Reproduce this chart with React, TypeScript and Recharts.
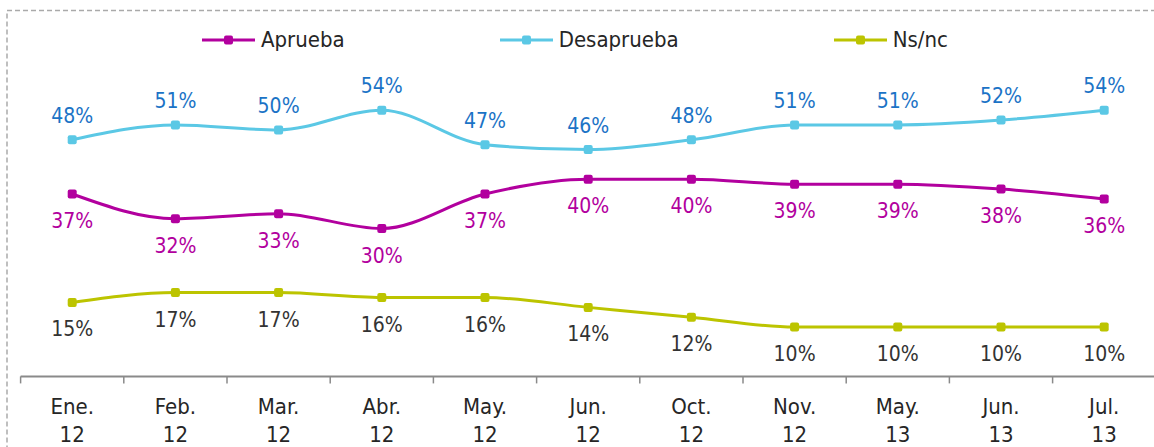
import { LabelList, Line, LineChart, XAxis, YAxis } from "recharts";

const MONTHS = ["Ene.", "Feb.", "Mar.", "Abr.", "May.", "Jun.", "Oct.", "Nov.", "May.", "Jun.", "Jul."];
const YEARS = ["12", "12", "12", "12", "12", "12", "12", "12", "13", "13", "13"];

const APRUEBA = [37, 32, 33, 30, 37, 40, 40, 39, 39, 38, 36];
const DESAPRUEBA = [48, 51, 50, 54, 47, 46, 48, 51, 51, 52, 54];
const NSNC = [15, 17, 17, 16, 16, 14, 12, 10, 10, 10, 10];

const FONT = "'DejaVu Sans Condensed', 'DejaVu Sans', sans-serif";

const SERIES = [
  { key: "aprueba", name: "Aprueba", color: "#b2009e", labelColor: "#b2009e", below: true },
  { key: "desaprueba", name: "Desaprueba", color: "#5bc8e5", labelColor: "#1b73c6", below: false },
  { key: "nsnc", name: "Ns/nc", color: "#bcc400", labelColor: "#333333", below: true },
];

const data = MONTHS.map((month, i) => ({
  idx: i,
  month,
  year: YEARS[i],
  aprueba: APRUEBA[i],
  desaprueba: DESAPRUEBA[i],
  nsnc: NSNC[i],
}));

// ticks at category centers (labels) and at boundaries (tick marks)
const xTicks = MONTHS.flatMap((_, i) => [i - 0.5, i]).concat(MONTHS.length - 0.5);

function AxisTick({ x, y, payload }: any) {
  const v = payload?.value as number;
  if (!Number.isInteger(v)) {
    return <line x1={x} x2={x} y1={y} y2={y + 7} stroke="#8a8a8a" strokeWidth={1.5} />;
  }
  return (
    <g>
      <text x={x} y={y + 38} textAnchor="middle" fill="#262626" fontSize={22} fontFamily={FONT}>
        {MONTHS[v]}
      </text>
      <text x={x} y={y + 66} textAnchor="middle" fill="#262626" fontSize={22} fontFamily={FONT}>
        {YEARS[v]}
      </text>
    </g>
  );
}

function SquareDot({ cx, cy, fill }: any) {
  if (cx == null || cy == null) return null;
  return <rect x={cx - 4.5} y={cy - 4.5} width={9} height={9} rx={2} fill={fill} />;
}

function makeLabel(color: string, below: boolean) {
  return function PctLabel({ x, y, value }: any) {
    return (
      <text
        x={x}
        y={below ? y + 34 : y - 17}
        textAnchor="middle"
        fill={color}
        fontSize={21}
        fontFamily={FONT}
      >
        {value}%
      </text>
    );
  };
}

function LegendRow() {
  return (
    <div
      style={{
        position: "absolute",
        top: 26,
        left: 202,
        display: "flex",
        gap: 155,
        fontFamily: FONT,
        fontSize: 22,
        color: "#262626",
        lineHeight: "28px",
      }}
    >
      {SERIES.map((s) => (
        <div key={s.key} style={{ display: "flex", alignItems: "center", gap: 6 }}>
          <svg width={53} height={12}>
            <line x1={0} x2={53} y1={6} y2={6} stroke={s.color} strokeWidth={3} />
            <rect x={22} y={1.5} width={9} height={9} rx={2} fill={s.color} />
          </svg>
          <span>{s.name}</span>
        </div>
      ))}
    </div>
  );
}

export default function App() {
  return (
    <div
      style={{
        position: "absolute",
        left: 0,
        top: 0,
        width: 1154,
        height: 447,
        overflow: "hidden",
        background: "#ffffff",
      }}
    >
      <svg width={1154} height={447} style={{ position: "absolute", left: 0, top: 0 }}>
        <rect
          x={7}
          y={10.5}
          width={1200}
          height={500}
          fill="none"
          stroke="#aaaaaa"
          strokeWidth={1.5}
          strokeDasharray="5 3"
        />
      </svg>
      <LegendRow />
      <div style={{ position: "absolute", left: 0, top: 0 }}>
        <LineChart
          width={1160}
          height={447}
          data={data}
          margin={{ top: 80.6, right: 4.2, bottom: 0.6, left: 20.6 }}
        >
          <XAxis
            dataKey="idx"
            type="number"
            domain={[-0.5, MONTHS.length - 0.5]}
            ticks={xTicks}
            interval={0}
            tickLine={false}
            tickSize={0}
            tickMargin={0}
            axisLine={{ stroke: "#8a8a8a", strokeWidth: 2 }}
            tick={<AxisTick />}
            height={70}
          />
          <YAxis hide domain={[0, 60]} />
          {SERIES.map((s) => (
            <Line
              key={s.key}
              dataKey={s.key}
              name={s.name}
              type="monotone"
              stroke={s.color}
              strokeWidth={3}
              dot={<SquareDot fill={s.color} />}
              activeDot={false}
              isAnimationActive={false}
            >
              <LabelList dataKey={s.key} content={makeLabel(s.labelColor, s.below)} />
            </Line>
          ))}
        </LineChart>
      </div>
    </div>
  );
}
